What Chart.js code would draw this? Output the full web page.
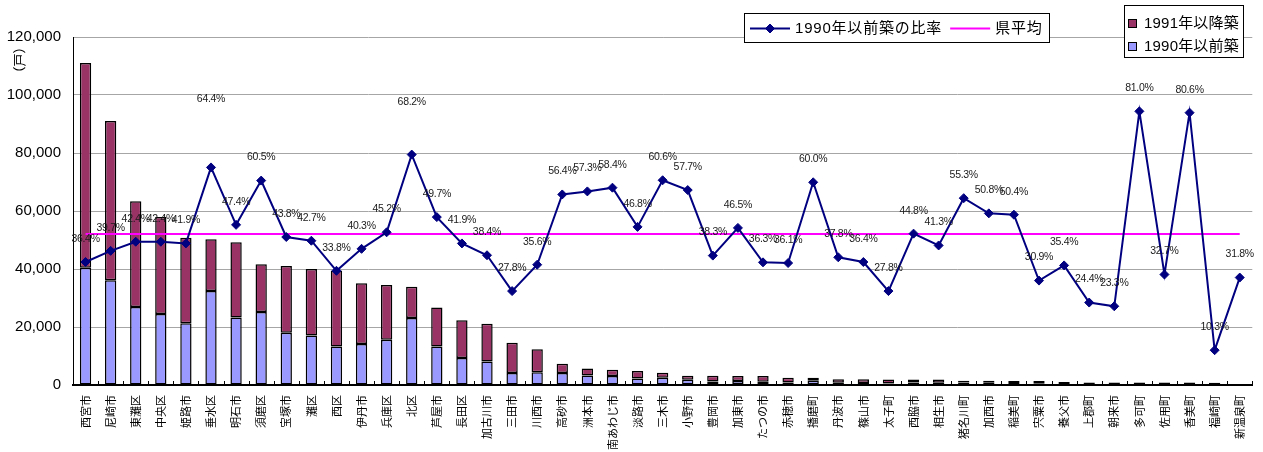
<!DOCTYPE html>
<html lang="ja">
<head>
<meta charset="utf-8">
<title>市区町別 住宅戸数と1990年以前築の比率</title>
<script src="https://cdn.jsdelivr.net/npm/chart.js@4.4.1/dist/chart.umd.min.js"></script>
<style>
  html, body { margin: 0; padding: 0; background: #fff; }
  #wrap { position: relative; width: 1263px; height: 452px; }
</style>
</head>
<body>
<div id="wrap"><canvas id="chart" width="1263" height="452"></canvas></div>
<script>
// 市区町名
const municipalities = [
  '西宮市', '尼崎市', '東灘区', '中央区', '姫路市', '垂水区', '明石市', '須磨区',
  '宝塚市', '灘区', '西区', '伊丹市', '兵庫区', '北区', '芦屋市', '長田区',
  '加古川市', '三田市', '川西市', '高砂市', '洲本市', '南あわじ市', '淡路市', '三木市',
  '小野市', '豊岡市', '加東市', 'たつの市', '赤穂市', '播磨町', '丹波市', '篠山市',
  '太子町', '西脇市', '相生市', '猪名川町', '加西市', '稲美町', '宍粟市', '養父市',
  '上郡町', '朝来市', '多可町', '佐用町', '香美町', '福崎町', '新温泉町'
];

// 1990年以前築（戸）
const builtUpTo1990 = [
  40400, 36100, 26900, 24500, 21300, 32400, 23300, 25200,
  18000, 17100, 13300, 14100, 15600, 23100, 13300, 9300,
  8100, 4100, 4400, 4100, 3300, 3100, 2200, 2500,
  1800, 1200, 1400, 1100, 900, 1500, 800, 700,
  500, 850, 800, 830, 760, 700, 430, 350,
  220, 210, 730, 290, 730, 80, 0
];

// 1991年以降築（戸）
const builtFrom1991 = [
  70600, 54900, 36500, 33400, 29500, 17900, 25900, 16400,
  23000, 22900, 26100, 21000, 18900, 10800, 13400, 13000,
  13000, 10500, 7900, 3200, 2400, 2200, 2600, 1700,
  1400, 2000, 1700, 2000, 1600, 1000, 1200, 1300,
  1400, 1050, 1100, 670, 740, 700, 970, 650,
  680, 690, 170, 610, 170, 720, 0
];

// 1990年以前築の比率（%）
const shareUpTo1990 = [
  36.4, 39.7, 42.4, 42.4, 41.9, 64.4, 47.4, 60.5,
  43.8, 42.7, 33.8, 40.3, 45.2, 68.2, 49.7, 41.9,
  38.4, 27.8, 35.6, 56.4, 57.3, 58.4, 46.8, 60.6,
  57.7, 38.3, 46.5, 36.3, 36.1, 60.0, 37.8, 36.4,
  27.8, 44.8, 41.3, 55.3, 50.8, 50.4, 30.9, 35.4,
  24.4, 23.3, 81.0, 32.7, 80.6, 10.3, 31.8
];

// 県平均（%）
const prefectureAverage = 44.7;

// 戸数軸の目盛り
const unitTicks = [0, 20000, 40000, 60000, 80000, 100000, 120000];

const LABEL_FONT = '"Liberation Sans", "Noto Sans CJK JP", sans-serif';
const CJK_FONT = '"Noto Sans CJK JP", "Liberation Sans", sans-serif';

// 分類境界に内向きの目盛り線を描く
const innerCategoryTicks = {
  id: 'innerCategoryTicks',
  afterDatasetsDraw(chart, args, opts) {
    const { ctx, chartArea } = chart;
    const xs = chart.scales.x;
    const n = chart.data.labels.length;
    const step = (chartArea.right - chartArea.left) / n;
    ctx.save();
    ctx.strokeStyle = '#000';
    ctx.lineWidth = 1;
    ctx.beginPath();
    for (let i = 0; i <= n; i++) {
      const x = Math.round(xs.left + i * step) + 0.5;
      ctx.moveTo(x, chartArea.bottom - opts.length);
      ctx.lineTo(x, chartArea.bottom);
    }
    ctx.stroke();
    ctx.restore();
  }
};

// 比率の値ラベル
const shareLabels = {
  id: 'shareLabels',
  afterDatasetsDraw(chart, args, opts) {
    const { ctx } = chart;
    const idx = chart.data.datasets.findIndex(d => d.id === 'share');
    const meta = chart.getDatasetMeta(idx);
    const values = chart.data.datasets[idx].data;
    ctx.save();
    ctx.font = opts.font;
    ctx.fillStyle = opts.color;
    ctx.textAlign = 'center';
    ctx.textBaseline = 'middle';
    if ('letterSpacing' in ctx) ctx.letterSpacing = opts.letterSpacing;
    meta.data.forEach((pt, i) => {
      const lift = opts.lift[i] !== undefined ? opts.lift[i] : opts.lift.default;
      ctx.fillText(values[i].toFixed(1) + '%', pt.x, pt.y - lift);
    });
    ctx.restore();
  }
};

// 単位表示と2つの凡例枠
const legendsAndUnit = {
  id: 'legendsAndUnit',
  afterDraw(chart, args, opts) {
    const { ctx } = chart;
    const ds = chart.data.datasets;
    const byId = id => ds.find(d => d.id === id);

    ctx.save();
    // 単位（戸）
    ctx.translate(opts.unit.x, opts.unit.y);
    ctx.rotate(-Math.PI / 2);
    ctx.font = '13px ' + CJK_FONT;
    ctx.fillStyle = '#000';
    ctx.textAlign = 'center';
    ctx.textBaseline = 'middle';
    ctx.fillText(opts.unit.text, 0, 0);
    ctx.restore();

    ctx.save();
    ctx.font = '15px ' + LABEL_FONT;
    ctx.textBaseline = 'middle';
    if ('letterSpacing' in ctx) ctx.letterSpacing = '0.8px';

    // 折れ線の凡例
    const lb = opts.lineBox;
    ctx.fillStyle = '#fff';
    ctx.fillRect(lb.x, lb.y, lb.w, lb.h);
    ctx.strokeStyle = '#000';
    ctx.lineWidth = 1;
    ctx.strokeRect(lb.x + 0.5, lb.y + 0.5, lb.w, lb.h);
    const cy = lb.y + lb.h / 2 + 1;
    let x = lb.x + 6;
    const lineItems = [byId('share'), byId('average')];
    lineItems.forEach(d => {
      ctx.strokeStyle = d.borderColor;
      ctx.lineWidth = d.borderWidth;
      ctx.beginPath();
      ctx.moveTo(x, cy);
      ctx.lineTo(x + 40, cy);
      ctx.stroke();
      if (d.pointRadius > 0) {
        ctx.fillStyle = d.pointBackgroundColor;
        ctx.strokeStyle = d.pointBorderColor;
        ctx.lineWidth = 1;
        Chart.helpers.drawPoint(ctx, { pointStyle: d.pointStyle, radius: d.pointRadius, borderWidth: 1 }, x + 20, cy);
      }
      x += 45;
      ctx.fillStyle = '#000';
      ctx.fillText(d.label, x, cy);
      x += ctx.measureText(d.label).width + 8;
    });

    // 棒の凡例
    const bb = opts.barBox;
    ctx.fillStyle = '#fff';
    ctx.fillRect(bb.x, bb.y, bb.w, bb.h);
    ctx.strokeStyle = '#000';
    ctx.lineWidth = 1;
    ctx.strokeRect(bb.x + 0.5, bb.y + 0.5, bb.w, bb.h);
    if ('letterSpacing' in ctx) ctx.letterSpacing = '0.2px';
    const barItems = [byId('after'), byId('before')];
    barItems.forEach((d, i) => {
      const ry = bb.y + 18 + i * 23;
      ctx.fillStyle = d.backgroundColor;
      ctx.fillRect(bb.x + 4, ry - 4, 8, 8);
      ctx.strokeStyle = '#000';
      ctx.strokeRect(bb.x + 4.5, ry - 3.5, 8, 8);
      ctx.fillStyle = '#000';
      ctx.fillText(d.label, bb.x + 20, ry + 1);
    });
    ctx.restore();
  }
};

const ctx = document.getElementById('chart').getContext('2d');
new Chart(ctx, {
  data: {
    labels: municipalities,
    datasets: [
      {
        id: 'share',
        type: 'line',
        label: '1990年以前築の比率',
        data: shareUpTo1990,
        yAxisID: 'y2',
        borderColor: '#000080',
        borderWidth: 2,
        pointStyle: 'rectRot',
        pointRadius: 4.5,
        pointHoverRadius: 4.5,
        pointBackgroundColor: '#000080',
        pointBorderColor: '#000080',
        pointBorderWidth: 1,
        tension: 0,
        order: 0
      },
      {
        id: 'average',
        type: 'line',
        label: '県平均',
        data: municipalities.map(() => prefectureAverage),
        yAxisID: 'y2',
        borderColor: '#FF00FF',
        borderWidth: 2,
        pointRadius: 0,
        tension: 0,
        order: 1
      },
      {
        id: 'before',
        type: 'bar',
        label: '1990年以前築',
        data: builtUpTo1990,
        yAxisID: 'y',
        backgroundColor: '#9999FF',
        borderColor: '#000',
        borderWidth: 1.5,
        borderSkipped: false,
        barPercentage: 0.45,
        categoryPercentage: 1,
        order: 2
      },
      {
        id: 'after',
        type: 'bar',
        label: '1991年以降築',
        data: builtFrom1991,
        yAxisID: 'y',
        backgroundColor: '#993366',
        borderColor: '#000',
        borderWidth: 1.5,
        borderSkipped: false,
        barPercentage: 0.45,
        categoryPercentage: 1,
        order: 2
      }
    ]
  },
  options: {
    responsive: false,
    animation: false,
    devicePixelRatio: 1,
    layout: { padding: { top: 37, right: 6, left: 0, bottom: 0 } },
    plugins: {
      legend: { display: false },
      tooltip: { enabled: false },
      shareLabels: {
        font: '10.5px ' + LABEL_FONT,
        color: '#1a1a1a',
        letterSpacing: '-0.3px',
        lift: { default: 23, 5: 68, 13: 52 }
      },
      innerCategoryTicks: { length: 4 },
      legendsAndUnit: {
        unit: { text: '（戸）', x: 19, y: 60 },
        lineBox: { x: 744, y: 13, w: 305, h: 29 },
        barBox: { x: 1124, y: 5, w: 119, h: 52 }
      }
    },
    scales: {
      x: {
        stacked: true,
        offset: true,
        grid: { display: false, drawTicks: false },
        border: { display: true, color: '#000', width: 2 },
        ticks: {
          autoSkip: false,
          maxRotation: 90,
          minRotation: 90,
          padding: 10,
          color: '#000',
          font: { family: CJK_FONT, size: 11 }
        },
        afterFit(scale) { scale.height = 67; }
      },
      y: {
        stacked: true,
        min: 0,
        max: 120000,
        afterBuildTicks(scale) { scale.ticks = unitTicks.map(v => ({ value: v })); },
        grid: { color: '#a6a6a6', lineWidth: 1, drawTicks: false },
        border: { display: true, color: '#000', width: 1 },
        ticks: {
          padding: 12,
          color: '#000',
          font: { family: LABEL_FONT, size: 15 },
          callback: v => Number(v).toLocaleString('en-US')
        },
        afterFit(scale) { scale.width = 73; }
      },
      y2: {
        display: false,
        min: 0,
        max: 103
      }
    }
  },
  plugins: [innerCategoryTicks, shareLabels, legendsAndUnit]
});
</script>
</body>
</html>
